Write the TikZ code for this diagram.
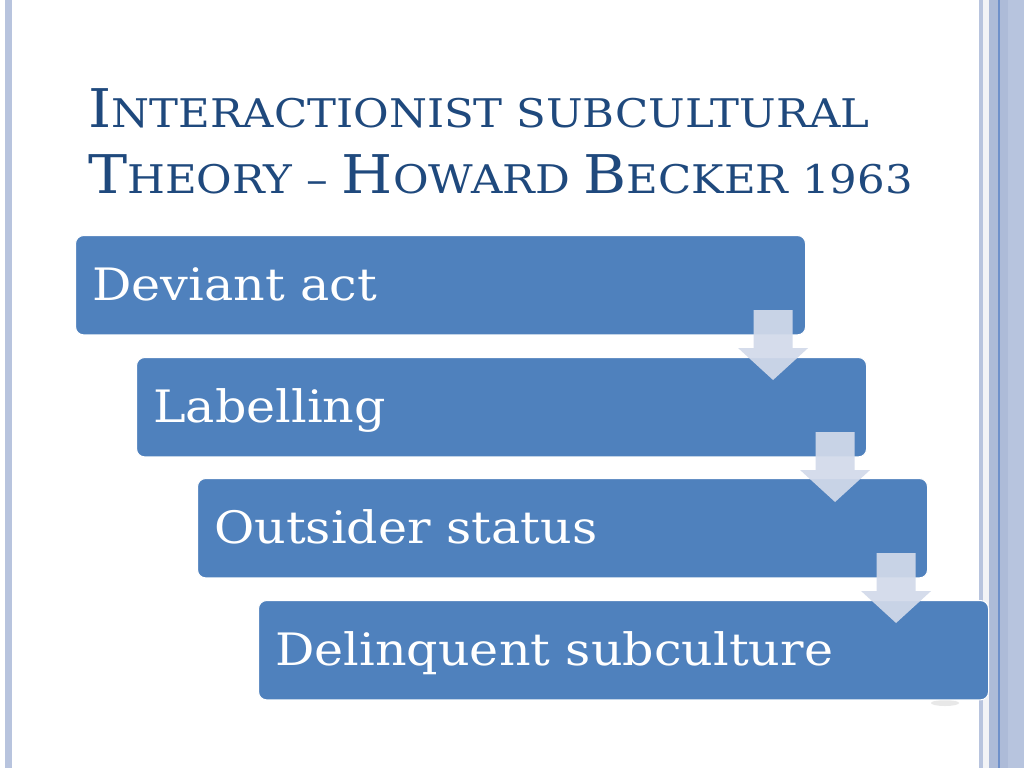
\documentclass[tikz,border=0pt]{standalone}
\usepackage{fontspec}
\setmainfont{DejaVu Serif}[FakeStretch=1.1]
\usetikzlibrary{calc}
\definecolor{boxblue}{HTML}{4F81BD}
\definecolor{titleblue}{HTML}{1F497D}
\definecolor{arrowfill}{HTML}{D2DAEA}
\definecolor{stripA}{HTML}{B8C4DE}
\definecolor{stripB}{HTML}{ADBBD8}
\definecolor{stripC}{HTML}{6E90CA}
\definecolor{stripD}{HTML}{F2F3F6}
\newcommand\TitleCap[1]{{\fontsize{40}{48}\selectfont #1}}
\newcommand\TitleSmall[1]{{\fontsize{29.6}{36}\selectfont #1}}
\tikzset{
  stagebox/.style={draw=white, line width=0.8pt, fill=boxblue, rounded corners=6pt,
    minimum width=547.5pt, minimum height=74.5pt, anchor=north west, inner sep=0pt},
  stagetext/.style={anchor=base west, text=white, font=\fontsize{33.5}{40}\selectfont, inner sep=0pt},
  titletext/.style={anchor=base west, text=titleblue, inner sep=0pt},
  flowarrow/.style={fill=arrowfill, draw=none, opacity=0.93},
  pics/darrow/.style={code={
    \path[flowarrow] (-19.5,-70) -- (19.5,-70) -- (19.5,-32) -- (35,-32) -- (0,0) -- (-35,-32) -- (-19.5,-32) -- cycle;
  }}
}
\begin{document}
\begin{tikzpicture}[x=0.75pt,y=-0.75pt]
\useasboundingbox (0,0) rectangle (1024,768);
\fill[white] (0,0) rectangle (1024,768);
% side strips
\fill[stripA] (5,0) rectangle (12,768);
\fill[stripA] (979,0) rectangle (983,768);
\fill[stripD] (983,0) rectangle (989,768);
\fill[stripB] (989,0) rectangle (998,768);
\fill[stripC] (998,0) rectangle (1000,768);
\fill[stripB] (1000,0) rectangle (1008,768);
\fill[stripA!95!stripB] (1008,0) rectangle (1024,768);
% title
\node[titletext] (t1) at (88,127) {\TitleCap{I}\TitleSmall{NTERACTIONIST SUBCULTURAL}};
\node[titletext] (t2) at (88,193) {\TitleCap{T}\TitleSmall{HEORY – }\TitleCap{H}\TitleSmall{OWARD }\TitleCap{B}\TitleSmall{ECKER 1963}};
% shadow under last box
\fill[gray!35, opacity=0.5] (945,703) ellipse (14 and 3);
% boxes
\node[stagebox] (b1) at (75,235) {};
\node[stagebox] (b2) at (136,357) {};
\node[stagebox] (b3) at (197,478) {};
\node[stagebox] (b4) at (258,600) {};
\node[stagetext] (l1) at ($(b1.north west)+(17,65)$) {Deviant act};
\node[stagetext] (l2) at ($(b2.north west)+(17,65)$) {Labelling};
\node[stagetext] (l3) at ($(b3.north west)+(17,65)$) {Outsider status};
\node[stagetext] (l4) at ($(b4.north west)+(17,65)$) {Delinquent subculture};
% arrows
\coordinate (a1) at ($(b1.east |- b2.north)+(-33,23)$);
\coordinate (a2) at ($(b2.east |- b3.north)+(-32,24)$);
\coordinate (a3) at ($(b3.east |- b4.north)+(-32,23)$);
\pic at (a1) {darrow};
\pic at (a2) {darrow};
\pic at (a3) {darrow};
\end{tikzpicture}
\end{document}
